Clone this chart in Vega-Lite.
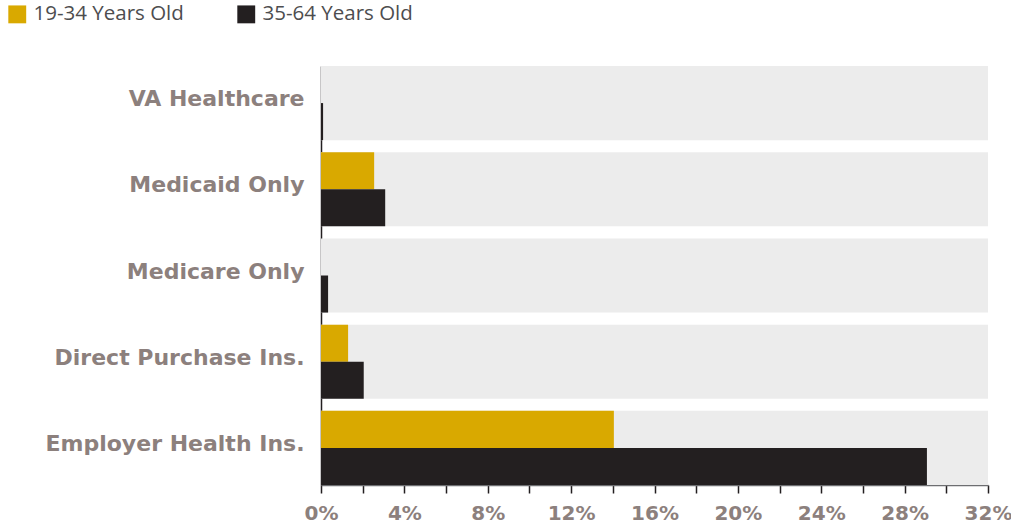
{
  "$schema": "https://vega.github.io/schema/vega-lite/v6.json",
  "autosize": {"type": "none"},
  "padding": {"left": 321, "top": 66, "right": 23, "bottom": 40},
  "width": 667,
  "height": 419,
  "background": "white",
  "config": {"view": {"stroke": null}},
  "datasets": {
    "cats": [
      {"category": "VA Healthcare"},
      {"category": "Medicaid Only"},
      {"category": "Medicare Only"},
      {"category": "Direct Purchase Ins."},
      {"category": "Employer Health Ins."}
    ],
    "vals": [
      {"category": "VA Healthcare", "group": "19-34 Years Old", "value": 0.0},
      {"category": "VA Healthcare", "group": "35-64 Years Old", "value": 0.1},
      {"category": "Medicaid Only", "group": "19-34 Years Old", "value": 2.55},
      {"category": "Medicaid Only", "group": "35-64 Years Old", "value": 3.08},
      {"category": "Medicare Only", "group": "19-34 Years Old", "value": 0.0},
      {"category": "Medicare Only", "group": "35-64 Years Old", "value": 0.34},
      {"category": "Direct Purchase Ins.", "group": "19-34 Years Old", "value": 1.3},
      {"category": "Direct Purchase Ins.", "group": "35-64 Years Old", "value": 2.05},
      {"category": "Employer Health Ins.", "group": "19-34 Years Old", "value": 14.05},
      {"category": "Employer Health Ins.", "group": "35-64 Years Old", "value": 29.07}
    ]
  },
  "encoding": {
    "y": {
      "field": "category",
      "type": "nominal",
      "sort": ["VA Healthcare", "Medicaid Only", "Medicare Only", "Direct Purchase Ins.", "Employer Health Ins."],
      "scale": {"paddingInner": 0.14, "paddingOuter": 0},
      "axis": {
        "title": null,
        "domain": true,
        "domainColor": "#231f20",
        "domainWidth": 1.5,
        "ticks": false,
        "labelFont": "DejaVu Sans",
        "labelFontWeight": "bold",
        "labelFontSize": 22,
        "labelColor": "#8c807d",
        "labelPadding": 17,
        "labelOffset": -4,
        "labelLimit": 0
      }
    }
  },
  "layer": [
    {
      "data": {"name": "cats"},
      "mark": {"type": "bar", "color": "#ececec"},
      "encoding": {
        "x": {"datum": 32, "type": "quantitative"}
      }
    },
    {
      "data": {"name": "vals"},
      "mark": {"type": "bar"},
      "encoding": {
        "x": {
          "field": "value",
          "type": "quantitative",
          "scale": {"domain": [0, 32], "nice": false},
          "axis": {
            "title": null,
            "values": [0, 2, 4, 6, 8, 10, 12, 14, 16, 18, 20, 22, 24, 26, 28, 30, 32],
            "labelExpr": "datum.value % 4 == 0 ? datum.value + '%' : ''",
            "grid": false,
            "domainColor": "#6d6e71",
            "domainWidth": 1.5,
            "tickColor": "#231f20",
            "tickWidth": 1.5,
            "tickSize": 8,
            "labelFont": "DejaVu Sans",
            "labelFontWeight": "bold",
            "labelFontSize": 20,
            "labelColor": "#8c807d",
            "labelPadding": 10,
            "labelFlush": false
          }
        },
        "yOffset": {
          "field": "group",
          "type": "nominal",
          "sort": ["19-34 Years Old", "35-64 Years Old"],
          "scale": {"paddingInner": 0, "paddingOuter": 0}
        },
        "color": {
          "field": "group",
          "type": "nominal",
          "scale": {"domain": ["19-34 Years Old", "35-64 Years Old"], "range": ["#d9a900", "#231f20"]},
          "legend": {
            "title": null,
            "orient": "none",
            "legendX": -314,
            "legendY": -62,
            "direction": "horizontal",
            "symbolType": "square",
            "symbolSize": 320,
            "symbolStrokeWidth": 0,
            "labelFont": "Open Sans",
            "labelFontSize": 20.5,
            "labelColor": "#4d4d4f",
            "labelOffset": 6,
            "columnPadding": 52,
            "padding": 0
          }
        }
      }
    }
  ]
}
